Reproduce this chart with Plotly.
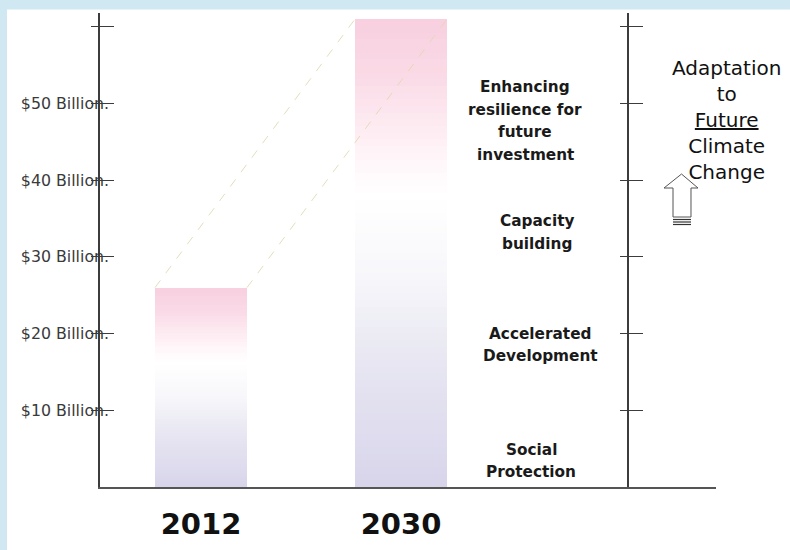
import plotly.graph_objects as go
from plotly.colors import sample_colorscale

# ---------------- data ----------------
years = ["2012", "2030"]
funding_billion = [26, 61]
tick_values = [10, 20, 30, 40, 50, 60]
tick_labels = ["$10 Billion.", "$20 Billion.", "$30 Billion.", "$40 Billion.", "$50 Billion.", ""]
segment_labels = [
    ["Social", "Protection"],
    ["Accelerated", "Development"],
    ["Capacity", "building"],
    ["Enhancing", "resilience for", "future", "investment"],
]
side_label = "Adaptation<br>to<br><u>Future</u><br>Climate<br>Change"

# ---------------- layout helpers ----------------
W, H = 790, 550
L, R, T, B = 100, 74, 13, 63
PW, PH = W - L - R, H - T - B
Y_MAX = 61.8
X_MIN, X_MAX = -0.505, 2.575
BAR_W = 0.46


def px(x):
    return (x - L) / PW


def py(y):
    return (H - B - y) / PH


# gradient: fraction measured from the top of each bar
grad = [
    [0.0, "#f8cfe0"],
    [0.12, "#fadae6"],
    [0.30, "#fff6f9"],
    [0.38, "#ffffff"],
    [0.55, "#f7f7fb"],
    [0.72, "#e8e7f2"],
    [1.0, "#d8d5eb"],
]

N = 70
fig = go.Figure()
xs = list(range(len(years)))
for k in range(N):
    frac_top = 1 - (k + 0.5) / N
    col = sample_colorscale(grad, [frac_top])[0]
    fig.add_trace(go.Bar(
        x=xs,
        y=[v / N for v in funding_billion],
        width=BAR_W,
        marker=dict(color=col, line=dict(width=0)),
        showlegend=False,
        hoverinfo="skip",
    ))

# dashed connectors between bar tops
for side in (-1, 1):
    fig.add_trace(go.Scatter(
        x=[xi + side * BAR_W / 2 for xi in xs],
        y=funding_billion,
        mode="lines",
        line=dict(color="rgba(222,216,175,0.85)", width=1, dash="dash"),
        showlegend=False,
        hoverinfo="skip",
    ))

# invisible traces so that extra axes render
for ax in ("y2", "y3", "y4"):
    fig.add_trace(go.Scatter(x=[None], y=[None], yaxis=ax, showlegend=False, hoverinfo="skip"))

axis_col = "#3c3c3c"
common_y = dict(range=[0, Y_MAX], tickvals=tick_values, showgrid=False, zeroline=False,
                tickcolor=axis_col, tickwidth=1.2, fixedrange=True, automargin=False)

fig.update_layout(
    width=W, height=H,
    margin=dict(l=L, r=R, t=T, b=B, autoexpand=False),
    paper_bgcolor="white",
    plot_bgcolor="white",
    barmode="stack",
    bargap=0,
    xaxis=dict(
        range=[X_MIN, X_MAX], tickvals=xs, ticktext=["<b>%s</b>" % y for y in years],
        showline=True, linecolor="#555555", linewidth=1.5,
        showgrid=False, zeroline=False, ticks="",
        tickfont=dict(family="DejaVu Sans", size=29, color="#111111"),
        ticklabelstandoff=10, fixedrange=True, automargin=False,
    ),
    yaxis=dict(
        **common_y,
        ticktext=tick_labels,
        showline=True, linecolor=axis_col, linewidth=1.5,
        ticks="outside", ticklen=7,
        tickfont=dict(family="DejaVu Sans", size=15.8, color="#3a3a3a"),
        ticklabelstandoff=-21,
    ),
    yaxis3=dict(**common_y, overlaying="y", anchor="x", side="left",
                ticks="inside", ticklen=14, showticklabels=False, showline=False),
    yaxis2=dict(**common_y, overlaying="y", anchor="free", position=px(628), side="left",
                ticks="outside", ticklen=7, showticklabels=False,
                showline=True, linecolor=axis_col, linewidth=1.5),
    yaxis4=dict(**common_y, overlaying="y", anchor="free", position=px(628), side="left",
                ticks="inside", ticklen=14, showticklabels=False, showline=False),
)

# segment labels (one annotation per line for the original line spacing)
seg_center_px = [(531, 461), (540, 345), (537, 232.5), (525, 121)]
LINE_GAP = 22.7
for lines, (cx, cy) in zip(segment_labels, seg_center_px):
    n = len(lines)
    for i, line in enumerate(lines):
        ly = cy + (i - (n - 1) / 2) * LINE_GAP
        fig.add_annotation(x=px(cx), y=py(ly), xref="paper", yref="paper",
                           text="<b>%s</b>" % line, showarrow=False,
                           xanchor="center", yanchor="middle",
                           font=dict(family="DejaVu Sans", size=15.3, color="#1a1a1a"))

fig.add_annotation(x=px(726), y=py(120), xref="paper", yref="paper", text=side_label,
                   showarrow=False, align="center", xanchor="center", yanchor="middle",
                   font=dict(family="DejaVu Sans", size=20, color="#111111"))

# frame bands
blue = "#cfe8f2"
fig.add_shape(type="rect", xref="paper", yref="paper", x0=px(0), x1=px(W), y0=py(9.5), y1=py(0),
              fillcolor=blue, line=dict(width=0), layer="below")
fig.add_shape(type="rect", xref="paper", yref="paper", x0=px(0), x1=px(7), y0=py(H), y1=py(0),
              fillcolor=blue, line=dict(width=0), layer="below")

# hollow up arrow
pts = [(681.5, 174), (698, 188), (691, 188), (691, 217), (673, 217), (673, 188), (664, 188)]
path = "M " + " L ".join("%.4f,%.4f" % (px(a), py(b)) for a, b in pts) + " Z"
fig.add_shape(type="path", xref="paper", yref="paper", path=path,
              fillcolor="white", line=dict(color="#555555", width=1))
for yy in (219.5, 222, 224.5):
    fig.add_shape(type="line", xref="paper", yref="paper", x0=px(673), x1=px(691), y0=py(yy), y1=py(yy),
                  line=dict(color="#333333", width=1.2))

fig.write_html("out.html", config={"displayModeBar": False},
               post_script="document.body.style.margin='0';")
